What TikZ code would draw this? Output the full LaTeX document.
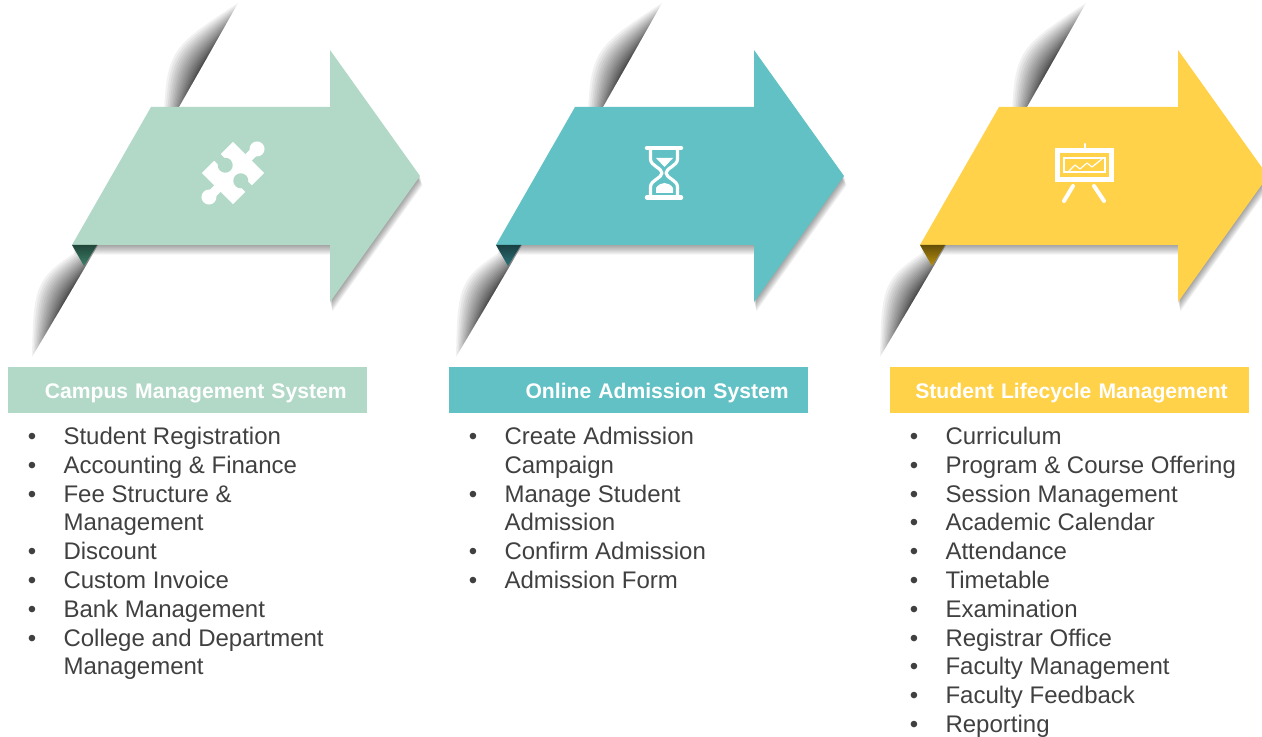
\documentclass[tikz,border=0pt]{standalone}
\usepackage{fontspec}
\setmainfont{Liberation Sans}
\usepackage{array}
\definecolor{campusFill}{HTML}{B2D9C8}
\definecolor{campusFold}{HTML}{3C8068}
\definecolor{admissionFill}{HTML}{62C1C5}
\definecolor{admissionFold}{HTML}{2C7378}
\definecolor{lifecycleFill}{HTML}{FFD24A}
\definecolor{lifecycleFold}{HTML}{B8900F}
\definecolor{listGray}{HTML}{404040}
\newcommand{\listTab}[1]{\begin{tabular}{@{}p{26.85pt}@{}l@{}}#1\end{tabular}}
\newcommand{\pt}{\textbullet}
\tikzset{
  headbox/.style={anchor=north west,inner sep=0pt,text width=269.25pt,text height=23.25pt,text depth=11.25pt,
    align=left,text=white,font=\fontsize{15.85}{19}\selectfont\bfseries},
  listbox/.style={anchor=north west,inner sep=0pt,text=listGray,font=\fontsize{18}{21.6}\selectfont},
  iconline/.style={draw=white,line width=#1,line cap=round,line join=round}
}
\begin{document}
\begin{tikzpicture}[x=0.75pt,y=-0.75pt]
  \useasboundingbox (0,0) rectangle (1262,737);
  \clip (0,0) rectangle (1262,737);
  \foreach \shiftx/\fillc/\foldc in {0/campusFill/campusFold,424/admissionFill/admissionFold,848/lifecycleFill/lifecycleFold} {
    \begin{scope}[xshift=\shiftx*0.75pt]
      \foreach \k in {0,...,23} {
        \pgfmathsetmacro{\t}{\k*0.0185}
        \pgfmathsetmacro{\w}{1.9*(1-\k/24)*(1-\k/24)}
        \fill[black,opacity=0.055] ({238-75*\t},{3+132*\t}) .. controls ({200.5-\w*18},{69-\w*10}) .. ({163+75*\t},{135-132*\t}) -- cycle;
        \fill[black,opacity=0.055] ({32+72*\t},{357-122*\t}) .. controls ({68-\w*18},{296-\w*10}) .. ({104-72*\t},{235+122*\t}) -- cycle;
      }
      \foreach \k in {1,...,12} {
        \fill[black,opacity=0.035,shift={({\k*0.2},{\k*0.8})}]
          (151,107) -- (330,107) -- (330,50) -- (420,176) -- (330,302) -- (330,245) -- (72,245) -- cycle;
      }
      \fill[\fillc] (151,107) -- (330,107) -- (330,50) -- (420,176) -- (330,302) -- (330,245) -- (72,245) -- cycle;
      \shade[top color=\foldc!55!black,bottom color=\foldc] (72,245) -- (97,245) -- (84,266) -- cycle;
    \end{scope}
  }
  \begin{scope}[shift={(233,173)},rotate=45]
    \fill[white] (-22,-22) rectangle (22,22);
    \fill[white] (34,0) circle (7.5);
    \fill[white] (-34,0) circle (7.5);
    \fill[white] (20,-4.5) rectangle (30,4.5);
    \fill[white] (-20,-4.5) rectangle (-30,4.5);
    \fill[campusFill] (0,-11) circle (7.5);
    \fill[campusFill] (0,11) circle (7.5);
    \fill[campusFill] (-4.5,-23) rectangle (4.5,-13);
    \fill[campusFill] (-4.5,23) rectangle (4.5,13);
  \end{scope}
  \draw[iconline=3.4pt] (647,148) -- (681,148);
  \draw[iconline=3.4pt] (647,197.5) -- (681,197.5);
  \draw[iconline=2.4pt] (650.5,150) -- (650.5,159) .. controls (650.5,166) and (662,168) .. (662,173) .. controls (662,178) and (650.5,180) .. (650.5,187) -- (650.5,195);
  \draw[iconline=2.4pt] (677.5,150) -- (677.5,159) .. controls (677.5,166) and (666,168) .. (666,173) .. controls (666,178) and (677.5,180) .. (677.5,187) -- (677.5,195);
  \fill[white] (656,158) -- (673,158) -- (664.5,167) -- cycle;
  \fill[white] (656,193) -- (656,188) .. controls (658,185) and (661,183) .. (664.5,183) .. controls (668,183) and (671,185) .. (673,188) -- (673,193) -- cycle;
  \draw[draw=white,line width=3.75pt] (1057.5,150.5) rectangle (1111.5,179.5);
  \draw[draw=white,line width=0.8pt] (1064,158) rectangle (1105,172);
  \draw[iconline=2pt] (1085,144) -- (1085,148);
  \draw[iconline=3pt] (1073,186) -- (1064,201);
  \draw[iconline=3pt] (1094,186) -- (1104,201);
  \draw[iconline=0.9pt] (1069,171) -- (1075,165) -- (1080,169) -- (1087,163) -- (1092,167) -- (1102,159);
  \node[headbox,fill=campusFill] (campusHead) at (8,367) {\hspace*{27.4pt}Campus Management System};
  \node[headbox,fill=admissionFill] (admissionHead) at (449,367) {\hspace*{57.2pt}Online Admission System};
  \node[headbox,fill=lifecycleFill] (lifecycleHead) at (890,367) {\hspace*{18.8pt}Student Lifecycle Management};
  \node[listbox] (campusList) at (27.5,424) {\listTab{
    \pt & Student Registration\\
    \pt & Accounting \& Finance\\
    \pt & Fee Structure \&\\
        & Management\\
    \pt & Discount\\
    \pt & Custom Invoice\\
    \pt & Bank Management\\
    \pt & College and Department\\
        & Management}};
  \node[listbox] (admissionList) at (468.5,424) {\listTab{
    \pt & Create Admission\\
        & Campaign\\
    \pt & Manage Student\\
        & Admission\\
    \pt & Confirm Admission\\
    \pt & Admission Form}};
  \node[listbox] (lifecycleList) at (909.5,424) {\listTab{
    \pt & Curriculum\\
    \pt & Program \& Course Offering\\
    \pt & Session Management\\
    \pt & Academic Calendar\\
    \pt & Attendance\\
    \pt & Timetable\\
    \pt & Examination\\
    \pt & Registrar Office\\
    \pt & Faculty Management\\
    \pt & Faculty Feedback\\
    \pt & Reporting}};
\end{tikzpicture}
\end{document}
